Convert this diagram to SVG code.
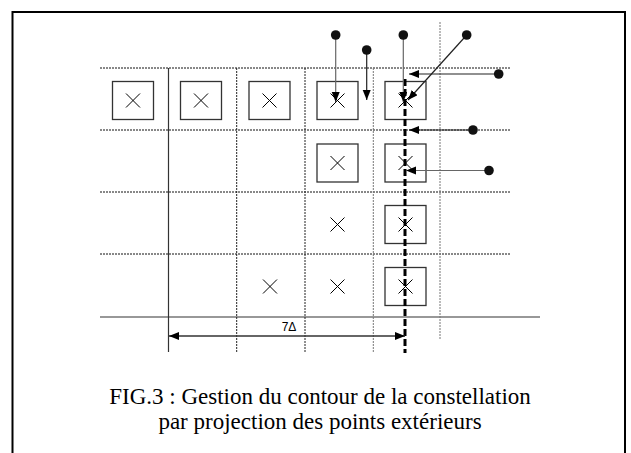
<svg xmlns="http://www.w3.org/2000/svg" width="631" height="453" viewBox="0 0 631 453">
  <style>
    .frame { fill: none; stroke: #000; stroke-width: 2; }
    .hdot { stroke: #111; stroke-width: 1; stroke-dasharray: 2 1; fill: none; }
    .vdot { stroke: #222; stroke-width: 1; stroke-dasharray: 2 1; fill: none; }
    .vgray { stroke: #777; stroke-width: 1; stroke-dasharray: 2 1; fill: none; }
    .solid { stroke: #333; stroke-width: 1.2; fill: none; }
    .box { fill: none; stroke: #333; stroke-width: 1.3; }
    .cross { stroke: #000; stroke-width: 1; fill: none; }
    .proj { stroke: #000; stroke-width: 3; stroke-dasharray: 7 3; fill: none; }
    .arrow { stroke: #222; stroke-width: 1.2; fill: none; marker-end: url(#head); }
    .arrow.soft { stroke: #666; }
    .dot { fill: #111; }
    .dim { stroke: #333; stroke-width: 1.3; fill: none; marker-start: url(#headStart); marker-end: url(#head); }
    .label { font-family: "Liberation Sans", Arial, sans-serif; font-size: 12px; fill: #000; }
    .caption { font-family: "Liberation Serif", "Times New Roman", serif; font-size: 23px; fill: #000; text-anchor: middle; }
  </style>
  <defs>
    <marker id="head" markerUnits="userSpaceOnUse" markerWidth="12" markerHeight="10" refX="10" refY="4" orient="auto">
      <path d="M0,0 L10,4 L0,8 Z" fill="#000"/>
    </marker>
    <marker id="headStart" markerUnits="userSpaceOnUse" markerWidth="12" markerHeight="10" refX="0" refY="4" orient="auto">
      <path d="M10,0 L0,4 L10,8 Z" fill="#000"/>
    </marker>
    <g id="xmark">
      <path class="cross" d="M-7,-7 L7,7 M7,-7 L-7,7"/>
    </g>
  </defs>

  <!-- outer frame, open at the bottom -->
  <path class="frame" d="M12.5,453 V12 H625 V453"/>

  <!-- grid -->
  <g id="grid">
    <line class="hdot" x1="100" y1="68" x2="510" y2="68"/>
    <line class="hdot" x1="100" y1="130" x2="510" y2="130"/>
    <line class="hdot" x1="100" y1="192" x2="510" y2="192"/>
    <line class="hdot" x1="100" y1="254" x2="510" y2="254"/>
    <line class="solid" x1="100" y1="317" x2="540" y2="317"/>
    <line class="solid" x1="168.5" y1="68" x2="168.5" y2="352"/>
    <line class="vdot" x1="236.7" y1="68" x2="236.7" y2="352"/>
    <line class="vdot" x1="305" y1="68" x2="305" y2="352"/>
    <line class="vgray" x1="373.3" y1="68" x2="373.3" y2="352"/>
    <line class="vgray" x1="440" y1="22" x2="440" y2="340"/>
  </g>

  <!-- constellation points -->
  <g id="p1"><rect class="box" x="112.5" y="81.5" width="41" height="38"/><use href="#xmark" x="133" y="100.5"/></g>
  <g id="p2"><rect class="box" x="180.5" y="81.5" width="41" height="38"/><use href="#xmark" x="201" y="100.5"/></g>
  <g id="p3"><rect class="box" x="249" y="81.5" width="41" height="38"/><use href="#xmark" x="269.5" y="100.5"/></g>
  <g id="p4"><rect class="box" x="317" y="81.5" width="41" height="38"/><use href="#xmark" x="337.5" y="100.5"/></g>
  <g id="p5"><rect class="box" x="385" y="81.5" width="41" height="38"/><use href="#xmark" x="405.5" y="100.5"/></g>
  <g id="p6"><rect class="box" x="317" y="144" width="41" height="38"/><use href="#xmark" x="337.5" y="163"/></g>
  <g id="p7"><rect class="box" x="385" y="144" width="41" height="38"/><use href="#xmark" x="405.5" y="163"/></g>
  <g id="p8"><use href="#xmark" x="337.5" y="224.5"/></g>
  <g id="p9"><rect class="box" x="385" y="205.5" width="41" height="38"/><use href="#xmark" x="405.5" y="224.5"/></g>
  <g id="p10"><use href="#xmark" x="270" y="286.5"/></g>
  <g id="p11"><use href="#xmark" x="337.5" y="286.5"/></g>
  <g id="p12"><rect class="box" x="385" y="267.5" width="41" height="38"/><use href="#xmark" x="405.5" y="286.5"/></g>

  <!-- projection boundary -->
  <line class="proj" x1="405" y1="79" x2="405" y2="353"/>

  <!-- exterior points projected onto the boundary -->
  <g id="connectors">
    <line class="arrow soft" x1="335.7" y1="35" x2="335.7" y2="102"/>
    <line class="arrow" x1="366.7" y1="50" x2="366.7" y2="100"/>
    <line class="arrow soft" x1="403.3" y1="35" x2="403.3" y2="102"/>
    <line class="arrow" x1="466.7" y1="35" x2="408" y2="100"/>
    <line class="arrow" x1="498.7" y1="74" x2="409" y2="74"/>
    <line class="arrow" x1="473" y1="130" x2="409" y2="130"/>
    <line class="arrow soft" x1="489" y1="170.5" x2="406" y2="170.5"/>
  </g>
  <g id="exterior">
    <circle class="dot" cx="335.7" cy="35" r="4.8"/>
    <circle class="dot" cx="366.7" cy="50" r="4.8"/>
    <circle class="dot" cx="403.3" cy="35" r="4.8"/>
    <circle class="dot" cx="466.7" cy="35" r="4.8"/>
    <circle class="dot" cx="498.7" cy="74" r="4.8"/>
    <circle class="dot" cx="473" cy="130" r="4.8"/>
    <circle class="dot" cx="489" cy="170.5" r="4.8"/>
  </g>

  <!-- dimension -->
  <g id="dimension">
    <line class="dim" x1="169" y1="336" x2="405" y2="336"/>
    <text class="label" x="289" y="331" text-anchor="middle">7Δ</text>
  </g>

  <!-- caption -->
  <text class="caption" x="320" y="404">FIG.3 : Gestion du contour de la constellation</text>
  <text class="caption" x="320" y="429">par projection des points extérieurs</text>
</svg>
